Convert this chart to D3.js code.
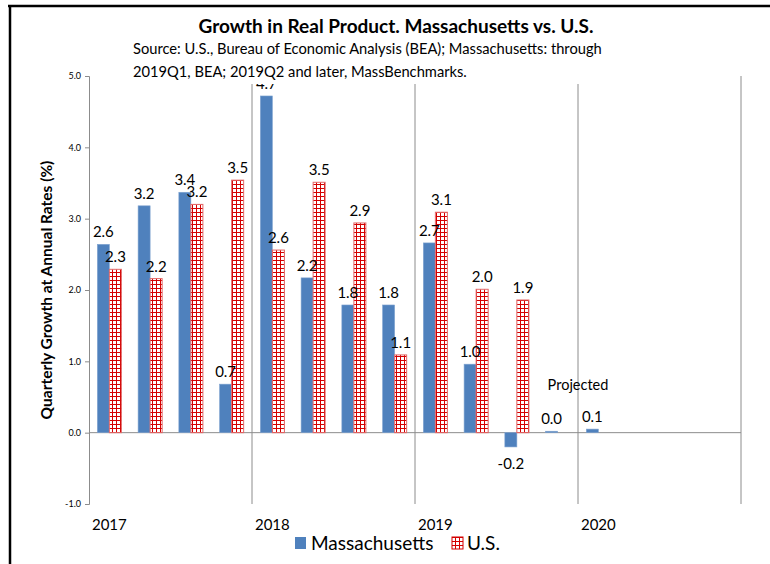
<!DOCTYPE html>
<html>
<head>
<meta charset="utf-8">
<script src="https://cdn.jsdelivr.net/npm/d3@7"></script>
<style>
  body { margin: 0; background: #fff; }
  text { font-family: Lato, "Open Sans", sans-serif; fill: #000; }
</style>
</head>
<body>
<svg id="chart" width="770" height="564"></svg>
<script>
// Quarterly data, 2017Q1 - 2020Q4
var quarters = ["2017Q1","2017Q2","2017Q3","2017Q4","2018Q1","2018Q2","2018Q3","2018Q4",
                "2019Q1","2019Q2","2019Q3","2019Q4","2020Q1","2020Q2","2020Q3","2020Q4"];
var years = ["2017", "2018", "2019", "2020"];
var maValues = [2.64, 3.18, 3.37, 0.68, 4.72, 2.17, 1.79, 1.79, 2.66, 0.96, -0.2, 0.02, 0.05, null, null, null];
var usValues = [2.29, 2.16, 3.2, 3.54, 2.56, 3.51, 2.94, 1.09, 3.09, 2.01, 1.86, null, null, null, null, null];
var yTicks = [-1, 0, 1, 2, 3, 4, 5];
var seriesNames = ["Massachusetts", "U.S."];

var svg = d3.select("#chart");
var plotLeft = 89, plotRight = 741, plotTop = 76, plotBottom = 504;

var x = d3.scaleBand()
    .domain(quarters)
    .range([plotLeft, plotRight])
    .paddingInner(0.41)
    .paddingOuter(0.205);

var xYear = d3.scaleBand()
    .domain(years)
    .range([plotLeft, plotRight]);

var xSeries = d3.scaleBand()
    .domain(seriesNames)
    .range([0, x.bandwidth()]);

var y = d3.scaleLinear()
    .domain([-1, 5])
    .range([plotBottom, plotTop]);

// one decimal, plain hyphen for negatives
var fmt = d => d3.format(".1f")(d).replace("\u2212", "-");

// hatch pattern for U.S. bars
var defs = svg.append("defs");
var pat = defs.append("pattern")
    .attr("id", "grid")
    .attr("patternUnits", "userSpaceOnUse")
    .attr("width", 4).attr("height", 4);
pat.append("rect").attr("width", 4).attr("height", 4).attr("fill", "#fff");
pat.append("rect").attr("x", 0).attr("y", 0).attr("width", 1).attr("height", 4).attr("fill", "#d40000");
pat.append("rect").attr("x", 0).attr("y", 0).attr("width", 4).attr("height", 1).attr("fill", "#d40000");

// frame
svg.append("line").attr("x1", 8).attr("x2", 770).attr("y1", 6).attr("y2", 6)
    .attr("stroke", "#000").attr("stroke-width", 2.5);
svg.append("line").attr("x1", 10).attr("x2", 10).attr("y1", 5).attr("y2", 564)
    .attr("stroke", "#000").attr("stroke-width", 2.5);

// year gridlines
svg.selectAll(".vgrid")
    .data(years)
    .enter().append("line")
    .attr("class", "vgrid")
    .attr("x1", d => xYear(d) + xYear.bandwidth())
    .attr("x2", d => xYear(d) + xYear.bandwidth())
    .attr("y1", plotTop)
    .attr("y2", plotBottom)
    .attr("stroke", "#8c8c8c")
    .attr("stroke-width", 1);

// y axis
var yAxis = svg.append("g")
    .attr("transform", "translate(" + plotLeft + ",0)")
    .call(d3.axisLeft(y).tickValues(yTicks).tickFormat(fmt).tickSize(4).tickPadding(4));
yAxis.select(".domain").attr("stroke", "#8c8c8c");
yAxis.selectAll(".tick line").attr("stroke", "#8c8c8c");
yAxis.selectAll(".tick text")
    .style("font-family", "Lato, sans-serif")
    .style("font-size", "9px")
    .attr("fill", "#222");

// zero line
svg.append("line")
    .attr("x1", plotLeft).attr("x2", plotRight)
    .attr("y1", y(0)).attr("y2", y(0))
    .attr("stroke", "#8c8c8c");

// bars
var maData = quarters.map((q, i) => ({ q: q, v: maValues[i] })).filter(d => d.v !== null);
var usData = quarters.map((q, i) => ({ q: q, v: usValues[i] })).filter(d => d.v !== null);

svg.selectAll(".ma")
    .data(maData)
    .enter().append("rect")
    .attr("class", "ma")
    .attr("x", d => x(d.q) + xSeries("Massachusetts"))
    .attr("width", xSeries.bandwidth())
    .attr("y", d => y(Math.max(0, d.v)))
    .attr("height", d => Math.abs(y(d.v) - y(0)))
    .attr("fill", "#4f81bd")
    .attr("stroke", "#7fa3d0")
    .attr("stroke-width", 0.6);

svg.selectAll(".us")
    .data(usData)
    .enter().append("rect")
    .attr("class", "us")
    .attr("x", d => x(d.q) + xSeries("U.S."))
    .attr("width", xSeries.bandwidth())
    .attr("y", d => y(Math.max(0, d.v)))
    .attr("height", d => Math.abs(y(d.v) - y(0)))
    .attr("fill", "url(#grid)")
    .attr("stroke", "#e36a6a")
    .attr("stroke-width", 1);

// value labels
function addLabels(data, series) {
    svg.selectAll(".lbl-" + series.replace(/\W/g, ""))
        .data(data)
        .enter().append("text")
        .attr("x", d => x(d.q) + xSeries(series) + xSeries.bandwidth() / 2)
        .attr("y", d => d.v < 0 ? y(d.v) + 22 : y(d.v) - 7)
        .attr("text-anchor", "middle")
        .style("font-size", "15px")
        .text(d => fmt(d.v));
}
addLabels(maData, "Massachusetts");
addLabels(usData, "U.S.");

// projected note
svg.append("text")
    .attr("x", xYear("2020"))
    .attr("y", y(0.6))
    .attr("text-anchor", "middle")
    .style("font-size", "14.5px")
    .text("Projected");

// year labels under first quarter of each year
svg.selectAll(".yr")
    .data(years)
    .enter().append("text")
    .attr("x", d => x(d + "Q1") + x.bandwidth() / 2)
    .attr("y", 530)
    .attr("text-anchor", "middle")
    .style("font-size", "15px")
    .text(d => d);

// y axis title
svg.append("text")
    .attr("transform", "translate(52," + (plotTop + plotBottom) / 2 + ") rotate(-90)")
    .attr("text-anchor", "middle")
    .style("font-size", "15.5px")
    .style("font-weight", "bold")
    .text("Quarterly Growth at Annual Rates (%)");

// title and subtitle (subtitle box covers top of plot)
svg.append("rect")
    .attr("x", 128).attr("y", 38).attr("width", 482).attr("height", 46)
    .attr("fill", "#fff");
svg.append("text")
    .attr("x", 396).attr("y", 33)
    .attr("text-anchor", "middle")
    .style("font-size", "19px")
    .style("font-weight", "bold")
    .text("Growth in Real Product. Massachusetts vs. U.S.");
svg.append("text")
    .attr("x", 133).attr("y", 54)
    .style("font-size", "14.7px")
    .text("Source: U.S., Bureau of Economic Analysis (BEA); Massachusetts: through");
svg.append("text")
    .attr("x", 133).attr("y", 77)
    .style("font-size", "14.7px")
    .text("2019Q1, BEA; 2019Q2 and later, MassBenchmarks.");

// legend
var legend = svg.append("g").attr("transform", "translate(295,537)");
legend.append("rect").attr("width", 11).attr("height", 12).attr("fill", "#4f81bd");
legend.append("text").attr("x", 16).attr("y", 12.5).style("font-size", "19px").text("Massachusetts");
legend.append("rect").attr("x", 157).attr("width", 11).attr("height", 12)
    .attr("fill", "url(#grid)").attr("stroke", "#d40000");
legend.append("text").attr("x", 172).attr("y", 12.5).style("font-size", "19px").text("U.S.");
</script>
</body>
</html>
